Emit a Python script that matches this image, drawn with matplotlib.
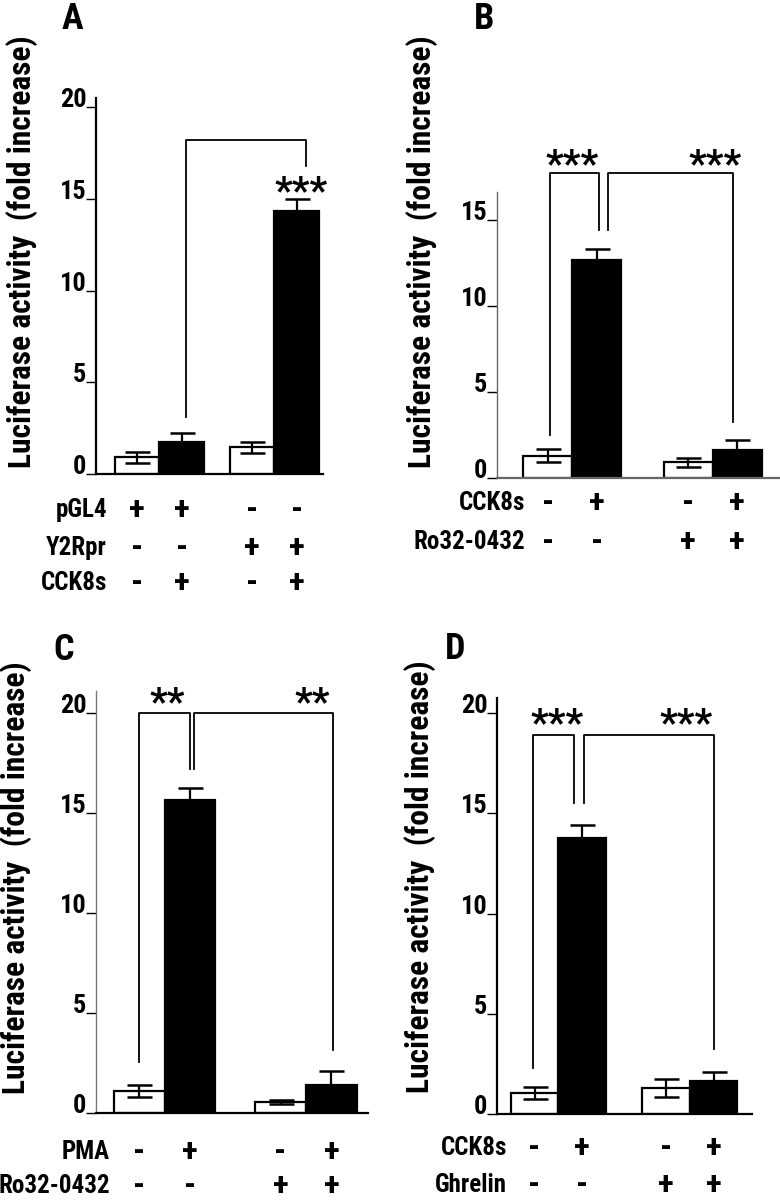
import matplotlib
matplotlib.use('Agg')
import matplotlib.pyplot as plt
from matplotlib import transforms, font_manager

# pick a narrow bold face if one is installed
names = {(f.name, str(f.stretch)) for f in font_manager.fontManager.ttflist}
fam_names = {n for n, s in names}
narrow = None
for cand in ['Liberation Sans Narrow', 'Roboto Condensed', 'Open Sans Condensed',
             'DejaVu Sans Condensed', 'Arial Narrow']:
    if cand in fam_names:
        narrow = cand
        break
shrink = 1.0
if narrow is not None:
    plt.rcParams['font.family'] = [narrow, 'DejaVu Sans']
elif ('DejaVu Sans', 'condensed') in names or ('DejaVu Sans', '75') in names:
    plt.rcParams['font.family'] = ['DejaVu Sans']
    plt.rcParams['font.stretch'] = 'condensed'
    shrink = 0.92
else:
    plt.rcParams['font.family'] = ['Liberation Sans', 'DejaVu Sans']
    shrink = 0.85
plt.rcParams['font.weight'] = 'bold'

W, H = 780, 1200

# ---- data ----
a_means = [0.9, 1.75, 1.45, 14.35]
a_errs = [0.3, 0.5, 0.3, 0.65]
a_rows = ['pGL4', 'Y2Rpr', 'CCK8s']
a_signs = [['+', '+', '-', '-'], ['-', '-', '+', '+'], ['-', '+', '-', '+']]
a_ticks = [0, 5, 10, 15, 20]

b_means = [1.3, 12.65, 0.9, 1.65]
b_errs = [0.37, 0.65, 0.25, 0.58]
b_rows = ['CCK8s', 'Ro32-0432']
b_signs = [['-', '+', '-', '+'], ['-', '-', '+', '+']]
b_ticks = [0, 5, 10, 15]

c_means = [1.1, 15.65, 0.55, 1.4]
c_errs = [0.3, 0.6, 0.12, 0.7]
c_rows = ['PMA', 'Ro32-0432']
c_signs = [['-', '+', '-', '+'], ['-', '-', '+', '+']]
c_ticks = [0, 5, 10, 15, 20]

d_means = [1.05, 13.75, 1.3, 1.65]
d_errs = [0.3, 0.65, 0.45, 0.45]
d_rows = ['CCK8s', 'Ghrelin']
d_signs = [['-', '+', '-', '+'], ['-', '-', '+', '+']]
d_ticks = [0, 5, 10, 15, 20]

colors = ['white', 'black', 'white', 'black']

fig = plt.figure(figsize=(W / 100, H / 100), dpi=100)


def fx(px):
    return px / W


def fy(py):
    return 1 - py / H


def panel(letter, letter_xy, rect, ymax, xlim, gap, means, errs, rows, signs,
          ticks, row_y, row_right, ylab_x, ylab_yc, spine_col, brackets, stars):
    left, right, y0, ytop = rect
    ax = fig.add_axes([fx(left), fy(y0), fx(right - left), (y0 - ytop) / H])
    pos = [0, 1, 1 + gap, 2 + gap]
    ax.bar(pos, means, width=1.0, color=colors, edgecolor='black',
           linewidth=1.6, zorder=2)
    ax.errorbar(pos, means, yerr=errs, fmt='none', ecolor='black',
                elinewidth=1.6, capsize=9, capthick=1.8, zorder=3)
    ax.set_ylim(0, ymax)
    ax.set_xlim(*xlim)
    for s in ['top', 'right']:
        ax.spines[s].set_visible(False)
    ax.spines['left'].set_color(spine_col[0])
    ax.spines['bottom'].set_color(spine_col[1])
    ax.spines['left'].set_linewidth(spine_col[2])
    ax.spines['bottom'].set_linewidth(1.6)
    ax.set_xticks([])
    ax.set_yticks(ticks)
    ax.set_yticklabels([str(t) for t in ticks], fontsize=19 * shrink,
                       fontweight='bold', va='baseline')
    ax.tick_params(axis='y', length=7, width=1, pad=0, colors='black')
    ax.set_facecolor('none')

    # significance brackets
    for xs, ys in brackets:
        ax.plot(xs, ys, color='black', lw=1.3, clip_on=False, zorder=4)
    for sx, sy, txt in stars:
        ax.text(sx, sy, txt, ha='center', va='center', fontsize=28 * shrink,
                fontweight='bold', clip_on=False)

    # treatment rows
    tr = transforms.blended_transform_factory(ax.transData, fig.transFigure)
    for r, lab in enumerate(rows):
        fig.text(fx(row_right), fy(row_y[r]), lab, ha='right', va='center',
                 fontsize=18 * shrink, fontweight='bold')
        for i, sg in enumerate(signs[r]):
            ax.text(pos[i], fy(row_y[r]), sg, transform=tr, ha='center',
                    va='center', fontsize=24 * shrink, fontweight='bold')

    fig.text(fx(ylab_x), fy(ylab_yc), 'Luciferase activity  (fold increase)',
             rotation=90, ha='center', va='center', fontsize=22.7 * shrink,
             fontweight='bold')
    fig.text(fx(letter_xy[0]), fy(letter_xy[1]), letter, ha='center',
             va='center', fontsize=26, fontweight='bold')
    return ax


# A
panel('A', (72, 19), (96, 323, 474, 98), 20.5, (-0.92, 4.17), 1.58,
      a_means, a_errs, a_rows, a_signs, a_ticks,
      (510, 548, 583), 107, 22, 252, ('black', 'black', 1.6),
      [([1.1, 1.1, 3.78, 3.78], [3.1, 18.2, 18.2, 16.8])],
      [(3.67, 15.35, '***')])

# B
panel('B', (484, 19), (497, 780, 478, 192), 16.6, (-1.03, 4.73), 1.86,
      b_means, b_errs, b_rows, b_signs, b_ticks,
      (503, 542), 525, 422, 252, ('#666666', '#666666', 1.0),
      [([0.04, 0.04, 1.04, 1.04], [2.5, 17.7, 17.7, 14.4]),
       ([1.22, 1.22, 3.78, 3.78], [14.4, 17.7, 17.7, 3.25])],
      [(0.49, 18.15, '***'), (3.41, 18.15, '***')])

# C
panel('C', (64, 650), (96, 368, 1113, 691), 21.1, (-0.85, 4.5), 1.78,
      c_means, c_errs, c_rows, c_signs, c_ticks,
      (1152, 1186), 110, 16, 878, ('#777777', 'black', 1.0),
      [([0.0, 0.0, 1.0, 1.0], [2.55, 20.0, 20.0, 17.2]),
       ([1.08, 1.08, 3.82, 3.82], [17.2, 20.0, 20.0, 3.15])],
      [(0.55, 20.45, '**'), (3.41, 20.45, '**')])

# D
panel('D', (455, 649), (497, 752, 1114, 698), 20.75, (-0.79, 4.58), 1.77,
      d_means, d_errs, d_rows, d_signs, d_ticks,
      (1148, 1185), 507, 420, 877, ('black', 'black', 1.6),
      [([-0.04, -0.04, 0.84, 0.84], [2.3, 18.9, 18.9, 15.5]),
       ([1.04, 1.04, 3.77, 3.77], [15.5, 18.9, 18.9, 3.25])],
      [(0.48, 19.4, '***'), (3.2, 19.4, '***')])

fig.savefig('out.png', dpi=100)
